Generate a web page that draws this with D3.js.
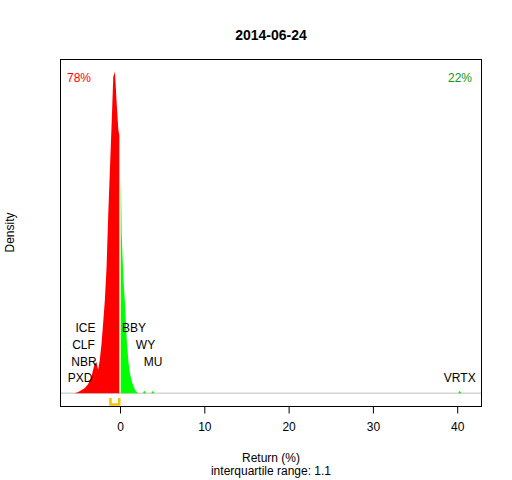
<!DOCTYPE html>
<html>
<head>
<meta charset="utf-8">
<script src="https://cdn.jsdelivr.net/npm/d3@7"></script>
<style>
  body { margin: 0; background: #fff; }
  svg { display: block; }
  text { font-family: "Liberation Sans", Arial, sans-serif; }
</style>
</head>
<body>
<svg id="chart" width="512" height="480"></svg>
<script>
// ---- data ----
const title = "2014-06-24";
const xTicks = [0, 10, 20, 30, 40];
// density of negative returns (red)
const negReturn  = [-5.4, -5.2, -5.0, -4.8, -4.6, -4.4, -4.2, -4.0, -3.8, -3.6, -3.4, -3.2, -3.0, -2.8, -2.6, -2.4, -2.2, -2.0, -1.8, -1.6, -1.4, -1.2, -1.0, -0.8, -0.6, -0.4, -0.2, -0.08];
const negDensity = [0, 0.001, 0.002, 0.004, 0.006, 0.008, 0.010, 0.014, 0.018, 0.024, 0.032, 0.047, 0.059, 0.063, 0.047, 0.067, 0.099, 0.142, 0.188, 0.253, 0.360, 0.452, 0.543, 0.640, 0.650, 0.587, 0.533, 0.522];
// density of positive returns (green)
const posReturn  = [0.08, 0.14, 0.2, 0.4, 0.6, 0.8, 1.0, 1.2, 1.4, 1.6, 1.8, 2.0, 2.2, 2.7, 2.9, 3.1, 3.7, 3.9, 4.1, 40.1, 40.3, 40.5];
const posDensity = [0.437, 0.395, 0.320, 0.233, 0.178, 0.107, 0.063, 0.038, 0.024, 0.014, 0.006, 0.002, 0, 0, 0.005, 0, 0, 0.005, 0, 0, 0.005, 0];
const quartiles = [-1.13, -0.1];
const negShare = "78%";
const posShare = "22%";
const leftNames = ["ICE", "CLF", "NBR", "PXD"];
const rightNames = ["BBY", "WY", "MU"];
const outlierName = "VRTX";
const xLabel = "Return (%)";
const subLabel = "interquartile range: 1.1";
const yLabel = "Density";

// ---- layout ----
const svg = d3.select("#chart");
const L = 60, R = 482, T = 59, B = 406;
const x = d3.scaleLinear().domain([-7.12, 42.94]).range([L, R]);
const maxD = d3.max(negDensity.concat(posDensity));
const y = d3.scaleLinear().domain([-0.04 * maxD, 1.04 * maxD]).range([B, T]);

const area = d3.area().x(d => x(d[0])).y0(y(0)).y1(d => y(d[1]));

// baseline
svg.append("line").attr("x1", L).attr("x2", R).attr("y1", y(0)).attr("y2", y(0))
  .attr("stroke", "#bebebe").attr("stroke-width", 1);

svg.append("path").datum(d3.zip(negReturn, negDensity)).attr("d", area).attr("fill", "#ff0000");
svg.append("path").datum(d3.zip(posReturn, posDensity)).attr("d", area).attr("fill", "#00ff00");

// IQR bracket
const qy1 = 398, qy2 = 404.5;
svg.append("path")
  .attr("d", `M${x(quartiles[0])},${qy1}V${qy2}H${x(quartiles[1])}V${qy1}`)
  .attr("fill", "none").attr("stroke", "#f5c400").attr("stroke-width", 2.6);

// box
svg.append("rect").attr("x", L + 0.5).attr("y", T + 0.5).attr("width", R - L - 1).attr("height", B - T)
  .attr("fill", "none").attr("stroke", "#000").attr("stroke-width", 1);

// x axis
const axis = svg.append("g").attr("transform", `translate(0,${B + 0.5})`)
  .call(d3.axisBottom(x).tickValues(xTicks).tickSize(7).tickPadding(9).tickFormat(d3.format("d")));
axis.select(".domain").remove();
axis.selectAll("text").attr("font-size", 12).attr("fill", "#000")
  .attr("font-family", "'Liberation Sans', Arial, sans-serif");

// titles
svg.append("text").attr("x", (L + R) / 2).attr("y", 35).attr("dy", "0.35em")
  .attr("text-anchor", "middle").attr("font-weight", "bold").attr("font-size", 14).text(title);
svg.append("text").attr("x", (L + R) / 2).attr("y", 458).attr("dy", "0.35em")
  .attr("text-anchor", "middle").attr("font-size", 12).text(xLabel);
svg.append("text").attr("x", (L + R) / 2).attr("y", 471).attr("dy", "0.35em")
  .attr("text-anchor", "middle").attr("font-size", 12).text(subLabel);
svg.append("text").attr("transform", `translate(10,${(T + B) / 2}) rotate(-90)`).attr("dy", "0.35em")
  .attr("text-anchor", "middle").attr("font-size", 12).text(yLabel);

// shares
svg.append("text").attr("x", 67).attr("y", 78).attr("dy", "0.35em")
  .attr("font-size", 12).attr("fill", "#ff0000").text(negShare);
svg.append("text").attr("x", 472).attr("y", 78).attr("dy", "0.35em").attr("text-anchor", "end")
  .attr("font-size", 12).attr("fill", "#119911").text(posShare);

// stock labels
const leftPos = [[85.5, 328], [83.5, 345], [84, 361.5], [80, 377.5]];
const rightPos = [[134, 328], [145.5, 345], [153, 361.5]];
leftNames.forEach((n, i) => svg.append("text").attr("x", leftPos[i][0]).attr("y", leftPos[i][1])
  .attr("dy", "0.35em").attr("text-anchor", "middle").attr("font-size", 12).text(n));
rightNames.forEach((n, i) => svg.append("text").attr("x", rightPos[i][0]).attr("y", rightPos[i][1])
  .attr("dy", "0.35em").attr("text-anchor", "middle").attr("font-size", 12).text(n));
svg.append("text").attr("x", x(40.3)).attr("y", 377.5).attr("dy", "0.35em")
  .attr("text-anchor", "middle").attr("font-size", 12).text(outlierName);
</script>
</body>
</html>
